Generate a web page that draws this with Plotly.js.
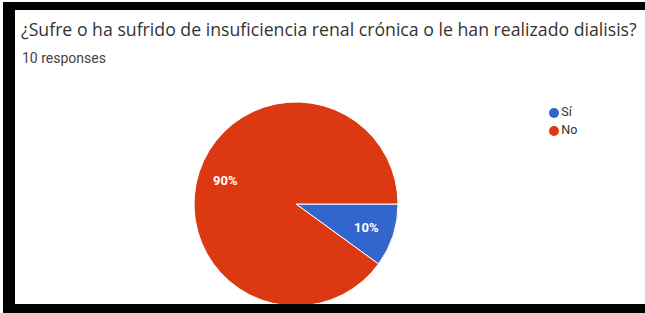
<!DOCTYPE html>
<html>
<head>
<meta charset="utf-8">
<script src="https://cdn.plot.ly/plotly-3.0.1.min.js"></script>
<style>
  html, body { margin:0; padding:0; background:#ffffff; width:645px; height:313px; overflow:hidden; }
  #frame { position:absolute; left:3px; top:2px; right:0; bottom:0; background:#000000; }
  #plot { position:absolute; left:15px; top:10px; width:630px; height:303px; }
  #bottombar { position:absolute; left:3px; right:0; top:304px; bottom:0; background:#000000; z-index:10; }
</style>
</head>
<body>
<div id="frame"></div>
<div id="plot"></div>
<div id="bottombar"></div>
<script>
const titleText = "¿Sufre o ha sufrido de insuficiencia renal crónica o le han realizado dialisis?";
const subtitleText = "10 responses";
const categories = ["Sí", "No"];
const counts = [1, 9];
const colors = ["#3366cc", "#dc3912"];

const W = 630, H = 303;
const cx = 281, cy = 194, r = 102;

const pie = {
  type: "pie",
  labels: categories,
  values: counts,
  sort: false,
  direction: "clockwise",
  rotation: 90,
  marker: { colors: colors, line: { color: "#ffffff", width: 1 } },
  textinfo: "none",
  hoverinfo: "none",
  showlegend: false,
  domain: { x: [(cx - r) / W, (cx + r) / W], y: [1 - (cy + r) / H, 1 - (cy - r) / H] }
};

// percentage labels placed along each slice's mid-angle (Google-chart style)
const total = counts.reduce((a, b) => a + b, 0);
let cum = 0;
const labelAnns = counts.map((v) => {
  const frac = v / total;
  const mid = -(cum + frac / 2) * 2 * Math.PI; // clockwise from 3 o'clock
  cum += frac;
  const d = 0.73 * r;
  const px = cx + d * Math.cos(mid);
  const py = cy - d * Math.sin(mid);
  return {
    text: Math.round(frac * 100) + "%",
    xref: "paper", yref: "paper", x: px / W, y: 1 - py / H,
    xanchor: "center", yanchor: "middle", showarrow: false,
    font: { family: "Roboto, Arial, sans-serif", size: 13, color: "#ffffff", weight: "bold" }
  };
});

const legendTrace = {
  type: "scatter",
  mode: "markers+text",
  x: categories.map(() => 0),
  y: categories.map((c, i) => i),
  text: categories,
  textposition: "middle right",
  textfont: { family: "Roboto, Arial, sans-serif", size: 12.5, color: "#333333" },
  marker: { color: colors, size: 10, symbol: "circle" },
  cliponaxis: false,
  hoverinfo: "none",
  showlegend: false,
  xaxis: "x", yaxis: "y"
};

const layout = {
  width: W, height: H,
  margin: { l: 0, r: 0, t: 0, b: 0, pad: 0 },
  paper_bgcolor: "#ffffff",
  plot_bgcolor: "rgba(0,0,0,0)",
  showlegend: false,
  xaxis: { domain: [539 / W, 600 / W], range: [0, 61], visible: false, fixedrange: true },
  yaxis: { domain: [1 - 127 / H, 1 - 95 / H], range: [24 / 18, -8 / 18], visible: false, fixedrange: true },
  font: { family: "Roboto, Arial, sans-serif" },
  annotations: [
    { text: titleText, xref: "paper", yref: "paper", x: 4 / W, y: 1 - 19 / H, xanchor: "left", yanchor: "middle",
      showarrow: false, font: { family: "Open Sans, Roboto, Arial, sans-serif", size: 17.7, color: "#333333" } },
    { text: subtitleText, xref: "paper", yref: "paper", x: 5 / W, y: 1 - 48 / H, xanchor: "left", yanchor: "middle",
      showarrow: false, font: { family: "Roboto, Arial, sans-serif", size: 14, color: "#444444" } }
  ].concat(labelAnns)
};

Plotly.newPlot("plot", [pie, legendTrace], layout, { displayModeBar: false, staticPlot: true });
</script>
</body>
</html>
